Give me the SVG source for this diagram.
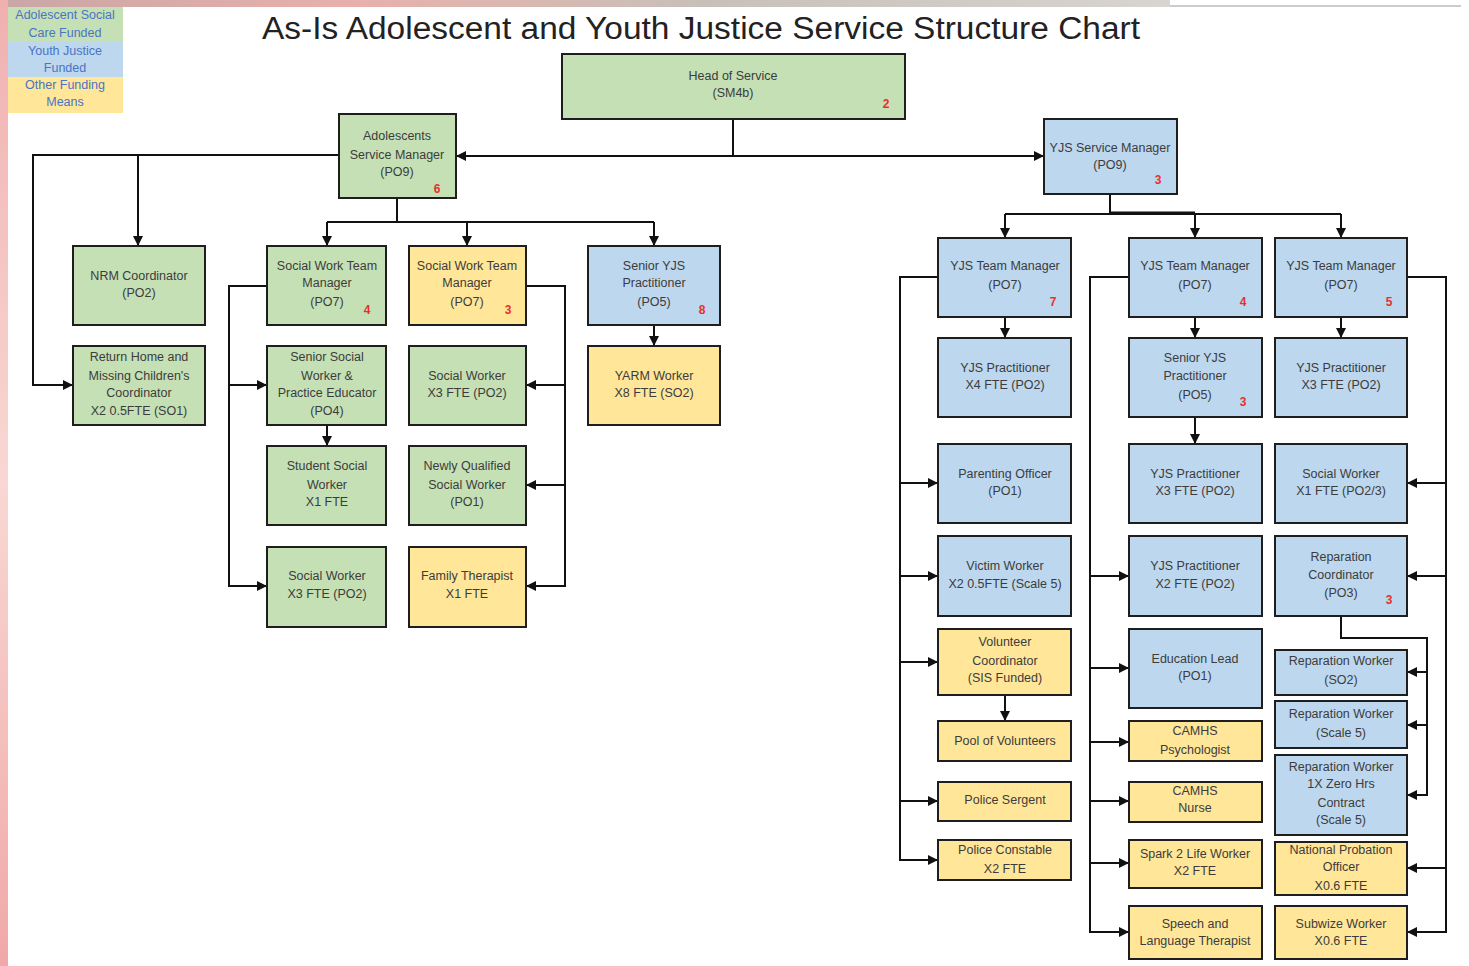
<svg xmlns="http://www.w3.org/2000/svg" width="1469" height="966" viewBox="0 0 1469 966">
<style>
.g{fill:#C5E0B4}.b{fill:#BDD7EE}.y{fill:#FFE699}
.bx{stroke:#1e1e1e;stroke-width:2}
.t{font-family:"Liberation Sans",Arial,sans-serif;font-size:12.5px;fill:#3c3c3c;text-anchor:middle}
.n{font-family:"Liberation Sans",Arial,sans-serif;font-size:12px;font-weight:bold;fill:#e8302a;text-anchor:middle}
.lg{font-family:"Liberation Sans",Arial,sans-serif;font-size:12.5px;fill:#4a74c4;text-anchor:middle}
.c path{fill:none;stroke:#111;stroke-width:2}
</style>
<defs>
<linearGradient id="tg" x1="0" x2="1" y1="0" y2="0">
<stop offset="0" stop-color="#c9a6a6"/><stop offset="0.3" stop-color="#e8b0ac"/><stop offset="0.6" stop-color="#c8c0b8"/><stop offset="1" stop-color="#d8d4d0"/>
</linearGradient>
<linearGradient id="lgr" x1="0" x2="0" y1="0" y2="1">
<stop offset="0" stop-color="#f0b0b0"/><stop offset="0.5" stop-color="#f8d8d4"/><stop offset="1" stop-color="#f0a8a8"/>
</linearGradient>
<marker id="ah" markerWidth="10" markerHeight="10" refX="10" refY="5" orient="auto" markerUnits="userSpaceOnUse"><path d="M0,0 L10,5 L0,10 z" fill="#111"/></marker>
</defs>
<rect width="1469" height="966" fill="#fff"/>
<rect x="0" y="0" width="1170" height="7" fill="url(#tg)"/>
<rect x="0" y="0" width="8" height="966" fill="url(#lgr)"/>
<line x1="1170" y1="6" x2="1461" y2="6" stroke="#bbb" stroke-width="1.5"/>

<g id="legend">
<rect x="8" y="7" width="115" height="35" class="g"/>
<rect x="8" y="42" width="115" height="35" class="b"/>
<rect x="8" y="77" width="115" height="36" class="y"/>
<text class="lg" x="65" y="19">Adolescent Social</text>
<text class="lg" x="65" y="37">Care Funded</text>
<text class="lg" x="65" y="55">Youth Justice</text>
<text class="lg" x="65" y="72">Funded</text>
<text class="lg" x="65" y="89">Other Funding</text>
<text class="lg" x="65" y="106">Means</text>
</g>
<text x="701" y="39" font-family="'Liberation Sans',Arial,sans-serif" font-size="31" fill="#222" text-anchor="middle" textLength="878" lengthAdjust="spacingAndGlyphs">As-Is Adolescent and Youth Justice Service Structure Chart</text>

<g class="c" id="connectors">
<path d="M733,119 V156 H456" marker-end="url(#ah)"/>
<path d="M733,156 H1044" marker-end="url(#ah)"/>
<path d="M339,155 H33 V385 H73" marker-end="url(#ah)"/>
<path d="M138,155 V246" marker-end="url(#ah)"/>
<path d="M397,198 V222"/>
<path d="M327,222 H654"/>
<path d="M327,222 V246" marker-end="url(#ah)"/>
<path d="M467,222 V246" marker-end="url(#ah)"/>
<path d="M654,222 V246" marker-end="url(#ah)"/>
<path d="M267,286 H229 V586 H267" marker-end="url(#ah)"/>
<path d="M229,385 H267" marker-end="url(#ah)"/>
<path d="M327,425 V446" marker-end="url(#ah)"/>
<path d="M526,286 H565 V586 H526" marker-end="url(#ah)"/>
<path d="M565,385 H526" marker-end="url(#ah)"/>
<path d="M565,485 H526" marker-end="url(#ah)"/>
<path d="M654,325 V346" marker-end="url(#ah)"/>
<path d="M1110,194 V214"/>
<path d="M1005,214 H1341"/>
<path d="M1110,213 H1195" style="stroke-width:3"/>
<path d="M1005,214 V238" marker-end="url(#ah)"/>
<path d="M1195,214 V238" marker-end="url(#ah)"/>
<path d="M1341,214 V238" marker-end="url(#ah)"/>
<path d="M1005,317 V338" marker-end="url(#ah)"/>
<path d="M1195,317 V338" marker-end="url(#ah)"/>
<path d="M1341,317 V338" marker-end="url(#ah)"/>
<path d="M1195,417 V444" marker-end="url(#ah)"/>
<path d="M938,277 H900 V860 H938" marker-end="url(#ah)"/>
<path d="M900,483 H938" marker-end="url(#ah)"/>
<path d="M900,576 H938" marker-end="url(#ah)"/>
<path d="M900,662 H938" marker-end="url(#ah)"/>
<path d="M900,801 H938" marker-end="url(#ah)"/>
<path d="M1005,695 V721" marker-end="url(#ah)"/>
<path d="M1129,277 H1090 V932 H1129" marker-end="url(#ah)"/>
<path d="M1090,576 H1129" marker-end="url(#ah)"/>
<path d="M1090,668 H1129" marker-end="url(#ah)"/>
<path d="M1090,742 H1129" marker-end="url(#ah)"/>
<path d="M1090,801 H1129" marker-end="url(#ah)"/>
<path d="M1090,863 H1129" marker-end="url(#ah)"/>
<path d="M1407,277 H1446 V932 H1407" marker-end="url(#ah)"/>
<path d="M1446,483 H1407" marker-end="url(#ah)"/>
<path d="M1446,576 H1407" marker-end="url(#ah)"/>
<path d="M1446,868 H1407" marker-end="url(#ah)"/>
<path d="M1341,616 V638 H1427 V795 H1407" marker-end="url(#ah)"/>
<path d="M1427,672 H1407" marker-end="url(#ah)"/>
<path d="M1427,725 H1407" marker-end="url(#ah)"/>
</g>

<g id="head"><rect x="562" y="54" width="343" height="65" class="g bx"/><text class="t" x="733" y="80">Head of Service</text><text class="t" x="733" y="97">(SM4b)</text><text class="n" x="886" y="108">2</text></g>
<g id="asm"><rect x="339" y="114" width="117" height="84" class="g bx"/><text class="t" x="397" y="140">Adolescents</text><text class="t" x="397" y="159">Service Manager</text><text class="t" x="397" y="176">(PO9)</text><text class="n" x="437" y="193">6</text></g>
<g id="yjssm"><rect x="1044" y="119" width="133" height="75" class="b bx"/><text class="t" x="1110" y="152">YJS Service Manager</text><text class="t" x="1110" y="169">(PO9)</text><text class="n" x="1158" y="184">3</text></g>

<g id="nrm"><rect x="73" y="246" width="132" height="79" class="g bx"/><text class="t" x="139" y="280">NRM Coordinator</text><text class="t" x="139" y="297">(PO2)</text></g>
<g id="rhm"><rect x="73" y="346" width="132" height="79" class="g bx"/><text class="t" x="139" y="361">Return Home and</text><text class="t" x="139" y="380">Missing Children's</text><text class="t" x="139" y="397">Coordinator</text><text class="t" x="139" y="415">X2 0.5FTE (SO1)</text></g>
<g id="swtm1"><rect x="267" y="246" width="119" height="79" class="g bx"/><text class="t" x="327" y="270">Social Work Team</text><text class="t" x="327" y="287">Manager</text><text class="t" x="327" y="306">(PO7)</text><text class="n" x="367" y="314">4</text></g>
<g id="swtm2"><rect x="409" y="246" width="117" height="79" class="y bx"/><text class="t" x="467" y="270">Social Work Team</text><text class="t" x="467" y="287">Manager</text><text class="t" x="467" y="306">(PO7)</text><text class="n" x="508" y="314">3</text></g>
<g id="syjs"><rect x="588" y="246" width="132" height="79" class="b bx"/><text class="t" x="654" y="270">Senior YJS</text><text class="t" x="654" y="287">Practitioner</text><text class="t" x="654" y="306">(PO5)</text><text class="n" x="702" y="314">8</text></g>
<g id="yarm"><rect x="588" y="346" width="132" height="79" class="y bx"/><text class="t" x="654" y="380">YARM Worker</text><text class="t" x="654" y="397">X8 FTE (SO2)</text></g>
<g id="ssw"><rect x="267" y="346" width="119" height="79" class="g bx"/><text class="t" x="327" y="361">Senior Social</text><text class="t" x="327" y="380">Worker &amp;</text><text class="t" x="327" y="397">Practice Educator</text><text class="t" x="327" y="415">(PO4)</text></g>
<g id="sw1"><rect x="409" y="346" width="117" height="79" class="g bx"/><text class="t" x="467" y="380">Social Worker</text><text class="t" x="467" y="397">X3 FTE (PO2)</text></g>
<g id="stu"><rect x="267" y="446" width="119" height="79" class="g bx"/><text class="t" x="327" y="470">Student Social</text><text class="t" x="327" y="489">Worker</text><text class="t" x="327" y="506">X1 FTE</text></g>
<g id="nq"><rect x="409" y="446" width="117" height="79" class="g bx"/><text class="t" x="467" y="470">Newly Qualified</text><text class="t" x="467" y="489">Social Worker</text><text class="t" x="467" y="506">(PO1)</text></g>
<g id="sw2"><rect x="267" y="547" width="119" height="80" class="g bx"/><text class="t" x="327" y="580">Social Worker</text><text class="t" x="327" y="598">X3 FTE (PO2)</text></g>
<g id="ft"><rect x="409" y="547" width="117" height="80" class="y bx"/><text class="t" x="467" y="580">Family Therapist</text><text class="t" x="467" y="598">X1 FTE</text></g>

<g id="tm7"><rect x="938" y="238" width="133" height="79" class="b bx"/><text class="t" x="1005" y="270">YJS Team Manager</text><text class="t" x="1005" y="289">(PO7)</text><text class="n" x="1053" y="306">7</text></g>
<g id="tm4"><rect x="1129" y="238" width="133" height="79" class="b bx"/><text class="t" x="1195" y="270">YJS Team Manager</text><text class="t" x="1195" y="289">(PO7)</text><text class="n" x="1243" y="306">4</text></g>
<g id="tm5"><rect x="1275" y="238" width="132" height="79" class="b bx"/><text class="t" x="1341" y="270">YJS Team Manager</text><text class="t" x="1341" y="289">(PO7)</text><text class="n" x="1389" y="306">5</text></g>
<g id="yp4"><rect x="938" y="338" width="133" height="79" class="b bx"/><text class="t" x="1005" y="372">YJS Practitioner</text><text class="t" x="1005" y="389">X4 FTE (PO2)</text></g>
<g id="syp"><rect x="1129" y="338" width="133" height="79" class="b bx"/><text class="t" x="1195" y="362">Senior YJS</text><text class="t" x="1195" y="380">Practitioner</text><text class="t" x="1195" y="399">(PO5)</text><text class="n" x="1243" y="406">3</text></g>
<g id="yp3c"><rect x="1275" y="338" width="132" height="79" class="b bx"/><text class="t" x="1341" y="372">YJS Practitioner</text><text class="t" x="1341" y="389">X3 FTE (PO2)</text></g>
<g id="po"><rect x="938" y="444" width="133" height="79" class="b bx"/><text class="t" x="1005" y="478">Parenting Officer</text><text class="t" x="1005" y="495">(PO1)</text></g>
<g id="yp3b"><rect x="1129" y="444" width="133" height="79" class="b bx"/><text class="t" x="1195" y="478">YJS Practitioner</text><text class="t" x="1195" y="495">X3 FTE (PO2)</text></g>
<g id="swc"><rect x="1275" y="444" width="132" height="79" class="b bx"/><text class="t" x="1341" y="478">Social Worker</text><text class="t" x="1341" y="495">X1 FTE (PO2/3)</text></g>
<g id="vw"><rect x="938" y="536" width="133" height="80" class="b bx"/><text class="t" x="1005" y="570">Victim Worker</text><text class="t" x="1005" y="588">X2 0.5FTE (Scale 5)</text></g>
<g id="yp2"><rect x="1129" y="536" width="133" height="80" class="b bx"/><text class="t" x="1195" y="570">YJS Practitioner</text><text class="t" x="1195" y="588">X2 FTE (PO2)</text></g>
<g id="rc"><rect x="1275" y="536" width="132" height="80" class="b bx"/><text class="t" x="1341" y="561">Reparation</text><text class="t" x="1341" y="579">Coordinator</text><text class="t" x="1341" y="597">(PO3)</text><text class="n" x="1389" y="604">3</text></g>
<g id="vc"><rect x="938" y="629" width="133" height="66" class="y bx"/><text class="t" x="1005" y="646">Volunteer</text><text class="t" x="1005" y="665">Coordinator</text><text class="t" x="1005" y="682">(SIS Funded)</text></g>
<g id="el"><rect x="1129" y="629" width="133" height="79" class="b bx"/><text class="t" x="1195" y="663">Education Lead</text><text class="t" x="1195" y="680">(PO1)</text></g>
<g id="rw1"><rect x="1275" y="650" width="132" height="45" class="b bx"/><text class="t" x="1341" y="665">Reparation Worker</text><text class="t" x="1341" y="684">(SO2)</text></g>
<g id="pool"><rect x="938" y="721" width="133" height="40" class="y bx"/><text class="t" x="1005" y="745">Pool of Volunteers</text></g>
<g id="camp"><rect x="1129" y="721" width="133" height="40" class="y bx"/><text class="t" x="1195" y="735">CAMHS</text><text class="t" x="1195" y="754">Psychologist</text></g>
<g id="rw2"><rect x="1275" y="701" width="132" height="47" class="b bx"/><text class="t" x="1341" y="718">Reparation Worker</text><text class="t" x="1341" y="737">(Scale 5)</text></g>
<g id="ps"><rect x="938" y="782" width="133" height="39" class="y bx"/><text class="t" x="1005" y="804">Police Sergent</text></g>
<g id="camn"><rect x="1129" y="782" width="133" height="40" class="y bx"/><text class="t" x="1195" y="795">CAMHS</text><text class="t" x="1195" y="812">Nurse</text></g>
<g id="rw3"><rect x="1275" y="755" width="132" height="80" class="b bx"/><text class="t" x="1341" y="771">Reparation Worker</text><text class="t" x="1341" y="788">1X Zero Hrs</text><text class="t" x="1341" y="807">Contract</text><text class="t" x="1341" y="824">(Scale 5)</text></g>
<g id="pc"><rect x="938" y="840" width="133" height="40" class="y bx"/><text class="t" x="1005" y="854">Police Constable</text><text class="t" x="1005" y="873">X2 FTE</text></g>
<g id="spark"><rect x="1129" y="840" width="133" height="48" class="y bx"/><text class="t" x="1195" y="858">Spark 2 Life Worker</text><text class="t" x="1195" y="875">X2 FTE</text></g>
<g id="npo"><rect x="1275" y="842" width="132" height="53" class="y bx"/><text class="t" x="1341" y="854">National Probation</text><text class="t" x="1341" y="871">Officer</text><text class="t" x="1341" y="890">X0.6 FTE</text></g>
<g id="slt"><rect x="1129" y="906" width="133" height="53" class="y bx"/><text class="t" x="1195" y="928">Speech and</text><text class="t" x="1195" y="945">Language Therapist</text></g>
<g id="sub"><rect x="1275" y="906" width="132" height="53" class="y bx"/><text class="t" x="1341" y="928">Subwize Worker</text><text class="t" x="1341" y="945">X0.6 FTE</text></g>
</svg>
